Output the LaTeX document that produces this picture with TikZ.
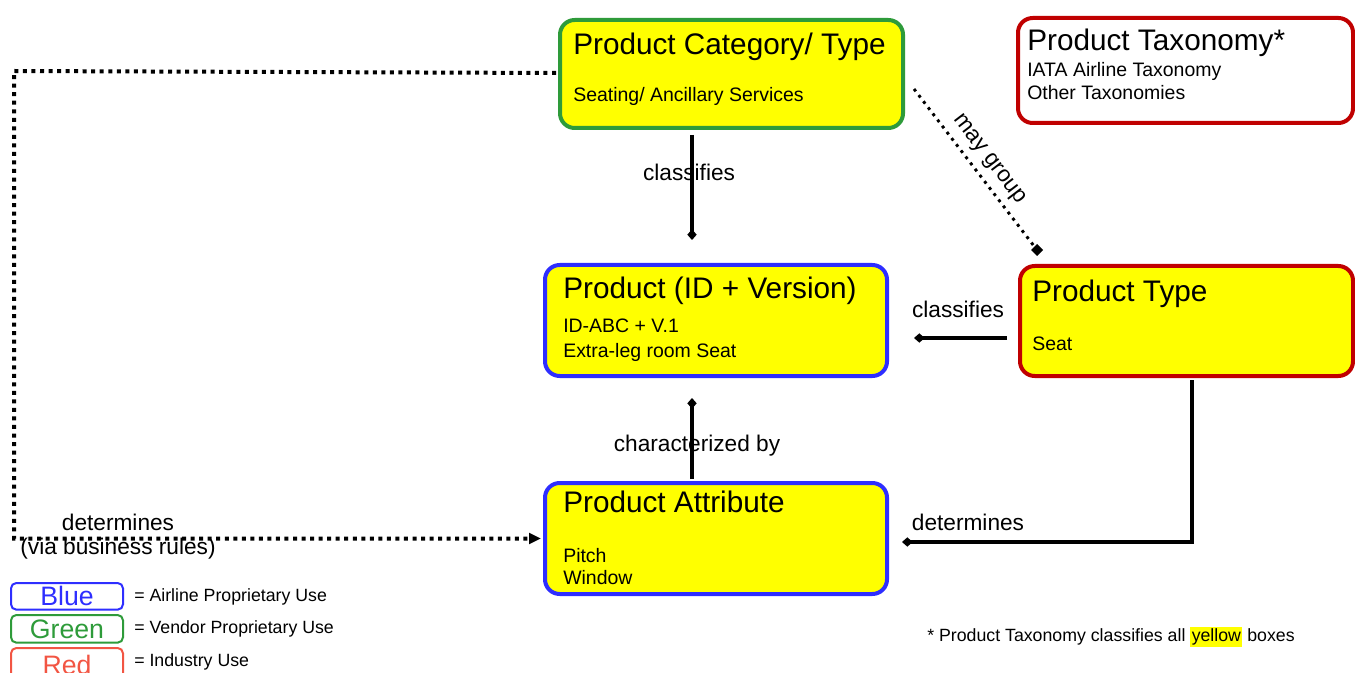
\documentclass[tikz,border=0pt]{standalone}
\usepackage{fontspec}
\setmainfont{Liberation Sans}
\usetikzlibrary{arrows.meta,calc}
\definecolor{cblue}{HTML}{2E2EFF}
\definecolor{cgreen}{HTML}{2E9B3A}
\definecolor{cred}{HTML}{C00000}
\definecolor{lred}{HTML}{F25543}
\definecolor{cyel}{HTML}{FFFF00}
\begin{document}
\begin{tikzpicture}[x=0.75pt,y=-0.75pt,
  box/.style={draw, line width=3pt, rounded corners=11pt, anchor=north west, inner sep=0pt},
  ybox/.style={box, fill=cyel},
  ttl/.style={anchor=base west, inner sep=0pt, font=\fontsize{22.3}{26}\selectfont},
  sub/.style={anchor=base west, inner sep=0pt, font=\fontsize{14.6}{17}\selectfont},
  lbl/.style={inner sep=0pt, font=\fontsize{17}{20}\selectfont},
  conn/.style={line width=2.6pt, -{Diamond[length=8pt,width=7pt]}},
  dotconn/.style={line width=3pt, dash pattern=on 3pt off 3.4pt},
  legbox/.style={draw, line width=1.5pt, rounded corners=4pt, anchor=north west, inner sep=0pt, minimum width=84pt, font=\fontsize{20}{22}\selectfont},
  legtxt/.style={anchor=west, inner sep=0pt, font=\fontsize{13.3}{16}\selectfont}
]
\useasboundingbox (0,0) rectangle (1355,673);

% boxes
\node[ybox, draw=cgreen, minimum width=257.25pt, minimum height=81pt] (cat) at (558,18) {};
\node[box, draw=cred, fill=white, minimum width=251.25pt, minimum height=78.75pt] (tax) at (1016,16) {};
\node[ybox, draw=cblue, minimum width=256.5pt, minimum height=83.25pt] (prod) at (543,263) {};
\node[ybox, draw=cred, minimum width=249.75pt, minimum height=82.5pt] (ptype) at (1018,264) {};
\node[ybox, draw=cblue, minimum width=256.5pt, minimum height=83.25pt] (attr) at (543,481) {};

% texts in boxes
\node[ttl] (catT) at (573,55) {Product Category/ Type};
\node[sub] (catS) at (573,102) {Seating/ Ancillary Services};
\node[ttl] (taxT) at (1027,51) {Product Taxonomy*};
\node[sub] (taxS1) at (1027,77) {IATA Airline Taxonomy};
\node[sub] (taxS2) at (1027,100) {Other Taxonomies};
\node[ttl] (prodT) at (563,299) {Product (ID + Version)};
\node[sub] (prodS1) at (563,332) {ID-ABC + V.1};
\node[sub] (prodS2) at (563,358) {Extra-leg room Seat};
\node[ttl] (ptypeT) at (1032,301) {Product Type};
\node[sub] (ptypeS) at (1032,350) {Seat};
\node[ttl] (attrT) at (563,512) {Product Attribute};
\node[sub] (attrS1) at (563,562) {Pitch};
\node[sub] (attrS2) at (563,584) {Window};

% connectors
\draw[conn] ($(cat.south)+(-39.5,5)$) -- ($(prod.north)+(-24,-23)$);
\node[lbl] (l1) at (689,172) {classifies};

\draw[line width=2.2pt, dash pattern=on 2.2pt off 3.6pt] ($(cat.east)+(9,15)$) -- ($(ptype.north west)+(19,-14)$)
  node[midway, sloped, above=5pt, lbl] (l2) {may group};
\fill ($(ptype.north west)+(19,-14)$) ++(0,-6) -- ++(6,6) -- ++(-6,6) -- ++(-6,-6) -- cycle;

\draw[conn] ($(ptype.west)+(-11,17)$) -- ($(prod.east)+(25,17.5)$);
\node[lbl] (l3) at (958,309) {classifies};

\draw[conn] ($(attr.north)+(-24,-2)$) -- ($(prod.south)+(-24,20)$);
\node[lbl] (l4) at (697,446) {characterized by};

\draw[conn] ($(ptype.south)+(5.5,2)$) |- ($(attr.east)+(13,3.5)$);
\node[lbl] (l5) at (968,522) {determines};

\coordinate (lc1) at (14,71);
\draw[dotconn, -{Triangle[length=9pt,width=8pt]}] ($(cat.west)+(-2,-1)$) -- (lc1) |- ($(attr.west)+(-2,0)$);
\node[lbl] (l6) at (118,522) {determines};
\node[lbl] (l7) at (118,549) {(via business rules)};

% legend
\node[legbox, draw=cblue, text=cblue, minimum height=20pt] (lb) at (10,582) {Blue};
\node[legbox, draw=cgreen, text=cgreen, minimum height=20.75pt] (lg) at (10,614) {Green};
\node[legbox, draw=lred, text=lred, minimum height=25pt] (lr) at (10,647) {Red};
\node[legtxt] (lbt) at (134,597) {= Airline Proprietary Use};
\node[legtxt] (lgt) at (134,629) {= Vendor Proprietary Use};
\node[legtxt] (lrt) at (134,662) {= Industry Use};

% footnote
{\setlength{\fboxsep}{1pt}
\node[legtxt] (foot) at (927,637) {* Product Taxonomy classifies all \colorbox{cyel}{yellow} boxes};}
\end{tikzpicture}
\end{document}
